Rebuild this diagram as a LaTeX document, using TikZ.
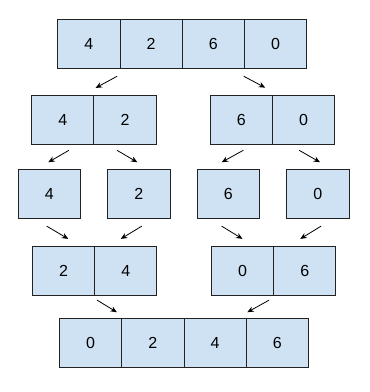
\documentclass[tikz,border=0pt]{standalone}
\usepackage{fontspec}
\setmainfont{Liberation Sans}
\usetikzlibrary{arrows.meta}
\definecolor{cellfill}{HTML}{CFE2F3}
\definecolor{celldraw}{HTML}{222222}
\begin{document}
\begin{tikzpicture}[x=1pt,y=-1pt,
  cell/.style={draw=celldraw, fill=cellfill, line width=0.9pt, minimum width=62.25pt, minimum height=49pt, inner sep=0pt, font=\fontsize{16}{18}\selectfont},
  arr/.style={draw=black, line width=0.8pt, -{Stealth[length=6.5pt,width=5.5pt]}}]
\useasboundingbox (0,0) rectangle (370,392);
% row 1
\node[cell] (r1a) at (88.85,44) {4};
\node[cell] (r1b) at (151.1,44) {2};
\node[cell] (r1c) at (213.35,44) {6};
\node[cell] (r1d) at (275.6,44) {0};
% row 2
\node[cell] (r2a) at (62.7,120.3) {4};
\node[cell] (r2b) at (124.95,120.3) {2};
\node[cell] (r2c) at (241.35,120.3) {6};
\node[cell] (r2d) at (303.6,120.3) {0};
% row 3
\node[cell] (r3a) at (49.3,194.2) {4};
\node[cell] (r3b) at (138.85,194.2) {2};
\node[cell] (r3c) at (228.3,194.2) {6};
\node[cell] (r3d) at (317.85,194.2) {0};
% row 4
\node[cell] (r4a) at (63.5,270.85) {2};
\node[cell] (r4b) at (125.75,270.85) {4};
\node[cell] (r4c) at (242.5,270.85) {0};
\node[cell] (r4d) at (304.75,270.85) {6};
% row 5
\node[cell] (r5a) at (90.65,342.8) {0};
\node[cell] (r5b) at (152.9,342.8) {2};
\node[cell] (r5c) at (215.15,342.8) {4};
\node[cell] (r5d) at (277.4,342.8) {6};
% arrows row 1 -> 2
\draw[arr] ([xshift=-3.3pt,yshift=-7.3pt]r1a.south east) -- ([xshift=1.3pt,yshift=7.4pt]r2a.north east);
\draw[arr] ([xshift=-1.2pt,yshift=-7.3pt]r1c.south east) -- ([xshift=-7.7pt,yshift=7.7pt]r2c.north east);
% arrows row 2 -> 3
\draw[arr] ([xshift=6.3pt,yshift=-5pt]r2a.south) -- ([xshift=-1pt,yshift=7pt]r3a.north);
\draw[arr] ([xshift=-8pt,yshift=-5pt]r2b.south) -- ([xshift=-1.5pt,yshift=7pt]r3b.north);
\draw[arr] ([xshift=2pt,yshift=-5pt]r2c.south) -- ([xshift=-6.6pt,yshift=7pt]r3c.north);
\draw[arr] ([xshift=-4.5pt,yshift=-5pt]r2d.south) -- ([xshift=2.2pt,yshift=7pt]r3d.north);
% arrows row 3 -> 4
\draw[arr] ([xshift=-2.6pt,yshift=-7pt]r3a.south) -- ([xshift=4.8pt,yshift=7pt]r4a.north);
\draw[arr] ([xshift=2.9pt,yshift=-7pt]r3b.south) -- ([xshift=-5pt,yshift=7pt]r4b.north);
\draw[arr] ([xshift=-6.6pt,yshift=-7pt]r3c.south) -- ([xshift=0pt,yshift=7pt]r4c.north);
\draw[arr] ([xshift=3.2pt,yshift=-7pt]r3d.south) -- ([xshift=-4.5pt,yshift=7pt]r4d.north);
% arrows row 4 -> 5
\draw[arr] ([xshift=2pt,yshift=-4.3pt]r4a.south east) -- ([xshift=-5.3pt,yshift=5.6pt]r5a.north east);
\draw[arr] ([xshift=-5pt,yshift=-4.3pt]r4c.south east) -- ([xshift=0.6pt,yshift=5.6pt]r5c.north east);
\end{tikzpicture}
\end{document}
